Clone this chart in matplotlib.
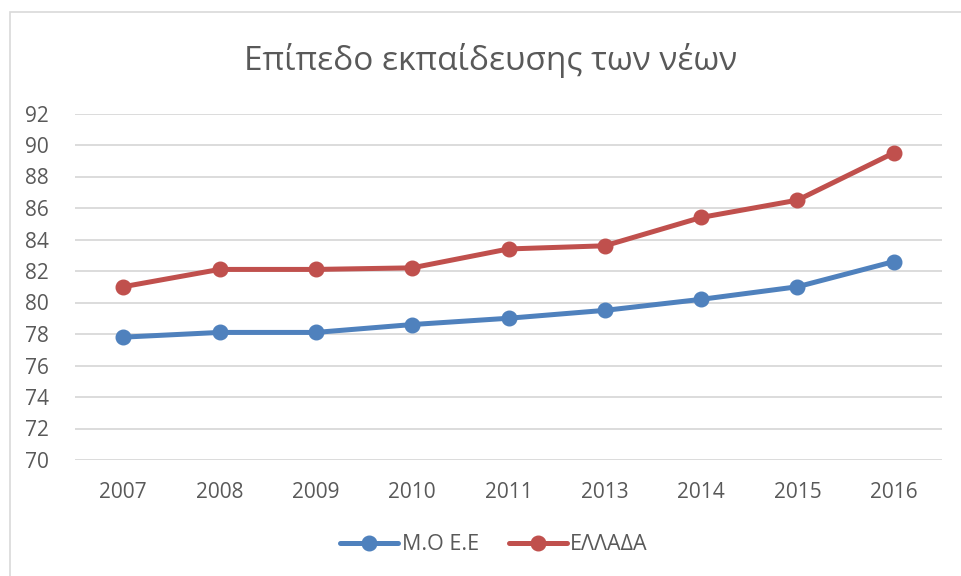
import matplotlib
matplotlib.use("Agg")
import matplotlib.pyplot as plt
from matplotlib.patches import Rectangle

years = ["2007", "2008", "2009", "2010", "2011", "2013", "2014", "2015", "2016"]
eu_avg = [77.8, 78.1, 78.1, 78.6, 79.0, 79.5, 80.2, 81.0, 82.6]
greece = [81.0, 82.1, 82.1, 82.2, 83.4, 83.6, 85.4, 86.5, 89.5]
series_names = ["Μ.Ο Ε.Ε", "ΕΛΛΑΔΑ"]
title = "Επίπεδο εκπαίδευσης των νέων"

plt.rcParams["font.family"] = ["Open Sans", "DejaVu Sans"]
text_col = "#595959"
W, H = 961, 576

fig = plt.figure(figsize=(W / 100, H / 100), dpi=100)
# chart border (only left/top visible in the reference)
fig.patches.append(Rectangle((10 / W, -0.1), 1.2, 1.1 - 12 / H,
                             transform=fig.transFigure, fill=False,
                             edgecolor="#D9D9D9", linewidth=1.2))

ax = fig.add_axes([75 / W, 1 - 460 / H, (942 - 75) / W, (460 - 113.5) / H])
x = list(range(len(years)))
ax.plot(x, eu_avg, color="#4F81BD", lw=3.6, marker="o", ms=10.5,
        label=series_names[0], solid_capstyle="round")
ax.plot(x, greece, color="#C0504D", lw=3.6, marker="o", ms=10.5,
        label=series_names[1], solid_capstyle="round")

ax.set_xlim(-0.5, len(years) - 0.5)
ax.set_ylim(70, 92)
ax.set_yticks(range(70, 93, 2))
ax.set_xticks(x)
ax.set_xticklabels(years)
ax.grid(axis="y", color="#D9D9D9", lw=1.3)
ax.set_axisbelow(True)
for s in ax.spines.values():
    s.set_visible(False)
ax.tick_params(length=0, labelsize=15, colors=text_col)
ax.tick_params(axis="x", pad=16)
ax.tick_params(axis="y", pad=19)

fig.text(491 / W, 1 - 60 / H, title, ha="center", va="center",
         fontsize=24, color=text_col)

leg = fig.legend(loc="center", bbox_to_anchor=(494 / W, 1 - 545 / H),
                 ncol=2, frameon=False, fontsize=15.5, handlelength=2.7,
                 columnspacing=1.4, handletextpad=0.15)
for t in leg.get_texts():
    t.set_color(text_col)

fig.savefig("out.png", dpi=100)
